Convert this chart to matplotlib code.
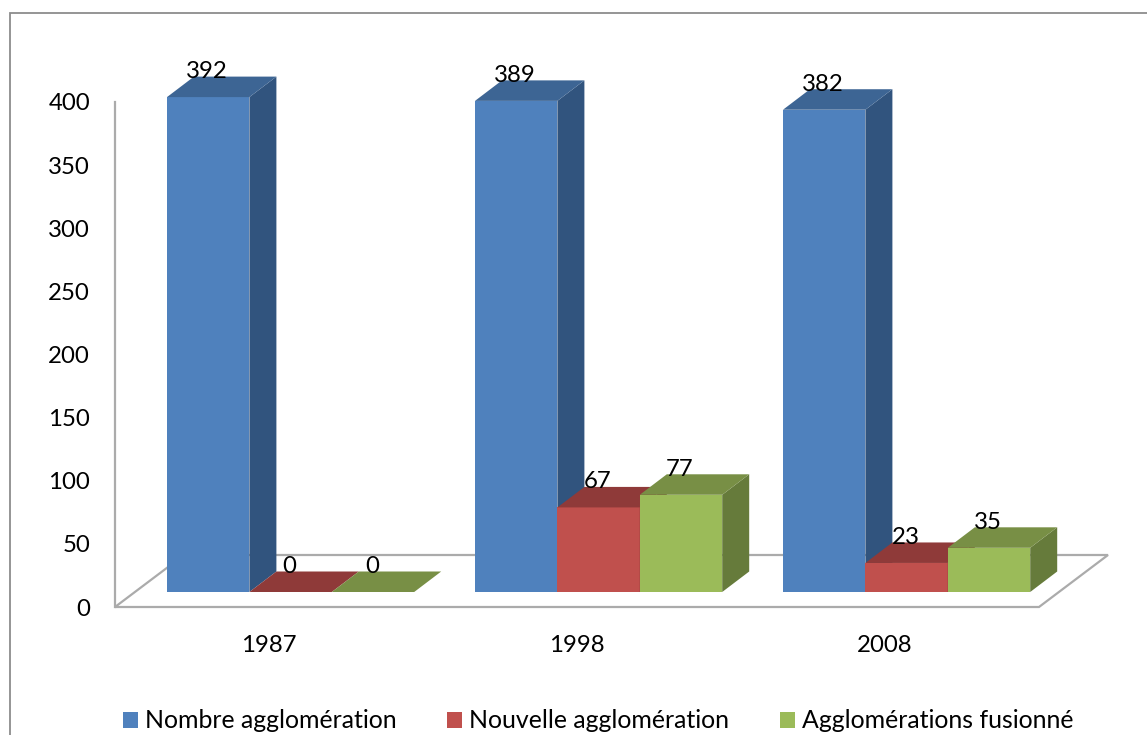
import matplotlib
matplotlib.use("Agg")
import matplotlib.pyplot as plt
from matplotlib.patches import Polygon, Rectangle
from matplotlib.lines import Line2D

years = ["1987", "1998", "2008"]
series_names = ["Nombre agglomération", "Nouvelle agglomération", "Agglomérations fusionné"]
nombre = [392, 389, 382]
nouvelle = [0, 67, 23]
fusionne = [0, 77, 35]
y_ticks = [0, 50, 100, 150, 200, 250, 300, 350, 400]

W, H = 1147, 735
plt.rcParams["font.family"] = ["Lato", "DejaVu Sans"]
FS = 17.3
FS_LEG = 17.9
fig = plt.figure(figsize=(W / 100, H / 100), dpi=100, facecolor="white")

# plot area in pixels
L, R, T, B = 115, 1039, 102, 607
ax = fig.add_axes([L / W, 1 - B / H, (R - L) / W, (B - T) / H])
ax.set_xlim(-0.5, 2.5)
ax.set_ylim(0, 400)
ax.patch.set_visible(False)

px_x = 3 / (R - L)
px_y = 400 / (B - T)

GREY = "#ABABAB"
# outer frame: left and top edges only are visible in the crop
frame_c = "#8C8C8C"
fig.add_artist(Line2D([10 / W, 10 / W, 1], [0, 1 - 12.5 / H, 1 - 12.5 / H], transform=fig.transFigure,
                      color=frame_c, lw=1.3, solid_joinstyle="miter"))

# floor + wall
floor_dx, floor_dy = 69 * px_x, 52 * px_y
ax.add_patch(Polygon([(-0.5, 0), (2.5, 0), (2.5 + floor_dx, floor_dy), (-0.5 + floor_dx, floor_dy)],
                     closed=True, fc="white", ec=GREY, lw=1.6, clip_on=False, zorder=1))
for s in ("top", "right", "bottom"):
    ax.spines[s].set_visible(False)
ax.spines["left"].set_color(GREY)
ax.spines["left"].set_linewidth(1.6)
ax.spines["left"].set_zorder(1.5)

ax.set_yticks(y_ticks)
ax.set_xticks(range(len(years)))
ax.set_xticklabels(years)
ax.tick_params(axis="y", length=0, pad=18, labelsize=FS, labelcolor="black")
ax.tick_params(axis="x", length=0, pad=20, labelsize=FS, labelcolor="black")

# bars
bar_w = 82.4 * px_x
depth_x, depth_y = 27 * px_x, 20.5 * px_y
base = 15 * px_y
first = (167 - L) * px_x - 0.5
series = [nombre, nouvelle, fusionne]
front = ["#4F81BD", "#C0504D", "#9BBB59"]
top_c = ["#3D6594", "#8F3A39", "#788F45"]
side_c = ["#31547E", "#7F3331", "#667B3B"]

z = 2
for g in range(len(years)):
    for s, vals in enumerate(series):
        v = vals[g]
        x0 = first + g + s * bar_w
        x1 = x0 + bar_w
        y0 = base
        y1 = base + v
        if v > 0:
            ax.add_patch(Polygon([(x0, y0), (x1, y0), (x1, y1), (x0, y1)], closed=True,
                                 fc=front[s], ec="none", clip_on=False, zorder=z))
            ax.add_patch(Polygon([(x1, y0), (x1 + depth_x, y0 + depth_y), (x1 + depth_x, y1 + depth_y), (x1, y1)],
                                 closed=True, fc=side_c[s], ec="none", clip_on=False, zorder=z))
        ax.add_patch(Polygon([(x0, y1), (x1, y1), (x1 + depth_x, y1 + depth_y), (x0 + depth_x, y1 + depth_y)],
                             closed=True, fc=top_c[s], ec="none", clip_on=False, zorder=z))
        ax.text((x0 + x1) / 2 - 1 * px_x, y1 + 25.5 * px_y, str(v), ha="center", va="center", fontsize=FS,
                color="black", zorder=10, clip_on=False)
        z += 0.01

handles = [Rectangle((0, 0), 1, 1, fc=c, ec="none") for c in front]
fig.legend(handles, series_names, loc="center left", bbox_to_anchor=(123 / W, 1 - 721 / H), ncol=3,
           frameon=False, fontsize=FS_LEG, borderpad=0, borderaxespad=0, handlelength=0.6, handleheight=0.6,
           handletextpad=0.28, columnspacing=2.05)

fig.savefig("out.png", dpi=100, facecolor="white")
